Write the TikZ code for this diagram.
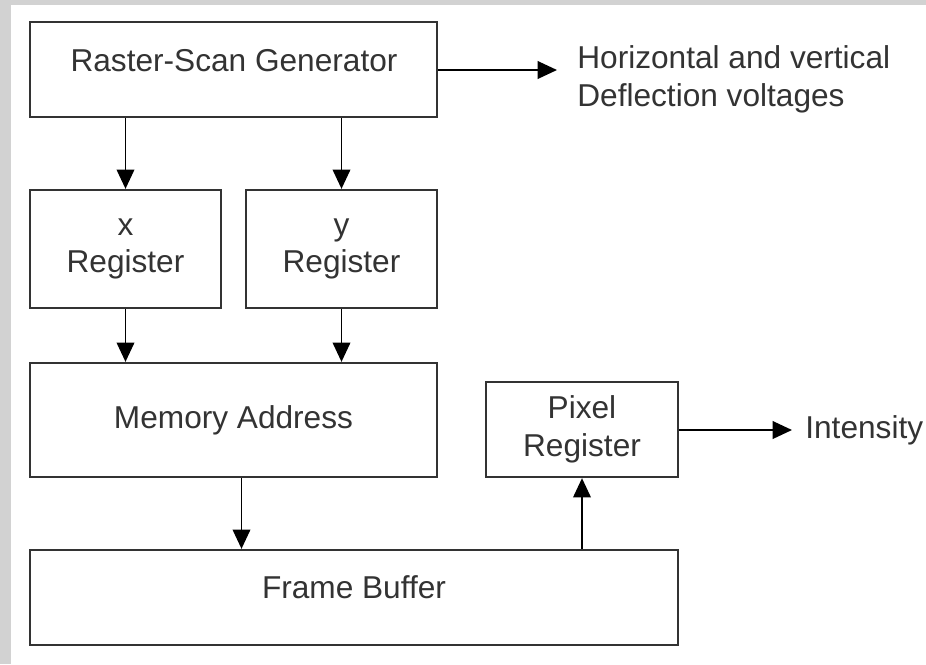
\documentclass[tikz,border=0pt]{standalone}
\usepackage{fontspec}
\setmainfont{Liberation Sans}
\usepackage{tikz}
\usetikzlibrary{
    arrows.meta,
    positioning,
    calc
}
\definecolor{boxline}{rgb}{0.2, 0.2, 0.2}
\tikzstyle{block} = [
    rectangle,
    draw=boxline,
    line width=1.3pt,
    fill=white,
    align=center,
    inner sep=0pt,
    text=boxline,
    font=\fontsize{18}{21.5}\selectfont
]
\tikzstyle{arrow} = [
    -{Triangle[length=11pt,width=10pt]},
    line width=1.1pt,
    draw=black
]
\tikzstyle{outlabel} = [
    anchor=west,
    align=left,
    inner sep=0pt,
    text=boxline,
    font=\fontsize{18}{21.5}\selectfont
]

\begin{document}
\begin{tikzpicture}[x=0.02cm, y=-0.02cm]
    % background
    \fill[gray!35] (0,0) rectangle (926,664);
    \fill[white] (11,5) rectangle (926,664);
    \useasboundingbox (0,0) rectangle (926,664);

    \node[block, minimum width=8.14cm, minimum height=1.9cm] (raster) at (233.5,69.5) {};
    \node[block, minimum width=3.82cm, minimum height=2.36cm] (xreg) at (125.5,249) {x\\Register};
    \node[block, minimum width=3.82cm, minimum height=2.36cm] (yreg) at (341.5,249) {y\\Register};
    \node[block, minimum width=8.14cm, minimum height=2.28cm] (mem) at (233.5,420) {Memory Address};
    \node[block, minimum width=3.84cm, minimum height=1.9cm] (pixel) at (582,429.5) {Pixel\\Register};
    \node[block, minimum width=12.96cm, minimum height=1.9cm] (frame) at (354,597.5) {};
    % texts sit a little above the middle in these two
    \node[block, draw=none, fill=none] (rastertext) at (234,61) {Raster-Scan Generator};
    \node[block, draw=none, fill=none] (frametext) at (354,587) {Frame Buffer};

    \coordinate (deflect) at (557,70);
    \coordinate (intens) at (792,430);
    \node[outlabel] (deflabel) at (577,79) {Horizontal and vertical\\Deflection voltages};
    \node[outlabel] (intlabel) at (805,430) {Intensity};

    \draw[arrow] (raster.south -| xreg) -- (xreg);
    \draw[arrow] (raster.south -| yreg) -- (yreg);
    \draw[arrow] (xreg) -- (xreg |- mem.north);
    \draw[arrow] (yreg) -- (yreg |- mem.north);
    \draw[arrow] ($(mem.south)+(8,0)$) -- ($(mem.south |- frame.north)+(8,0)$);
    \draw[arrow] (frame.north -| pixel) -- (pixel);
    \draw[arrow] (raster.east |- deflect) -- (deflect);
    \draw[arrow] (pixel.east |- intens) -- (intens);
\end{tikzpicture}
\end{document}
